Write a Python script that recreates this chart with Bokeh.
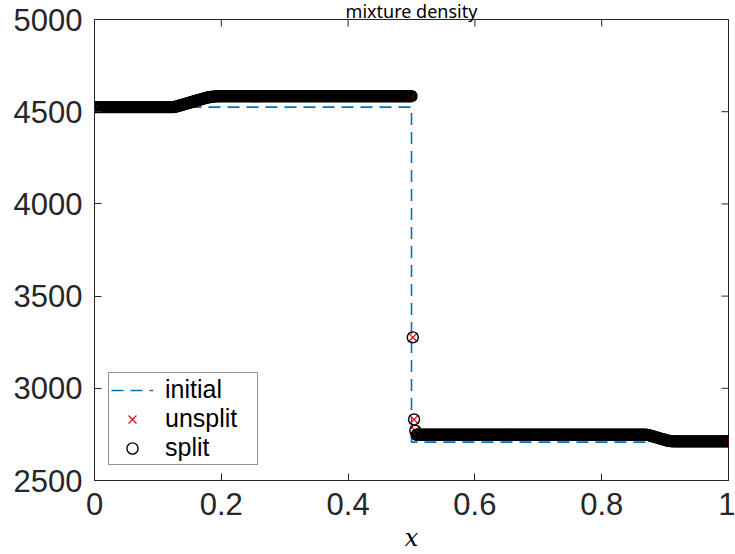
import numpy as np
from bokeh.plotting import figure
from bokeh.models import Legend, LegendItem, Range1d, FixedTicker
from bokeh.embed import file_html
from bokeh.resources import INLINE

# ---- data ----
dx = 0.002
rho_left = [4525] * 63                     # x = 0 .. 0.124
rare_left = [4526, 4527, 4529, 4531, 4533, 4535, 4537, 4539, 4541, 4543,
             4545, 4547, 4549, 4551, 4553, 4555, 4557, 4559, 4561, 4563,
             4565, 4567, 4569, 4571, 4573, 4575, 4577, 4578, 4579, 4580,
             4581, 4582, 4583, 4583, 4584]  # x = 0.126 .. 0.194
rho_star_left = [4584] * 153               # x = 0.196 .. 0.5
jump = [3276, 2831, 2770]                  # x = 0.502 .. 0.506
rho_star_right = [2748] * 182              # x = 0.508 .. 0.87
rare_right = [2747, 2746, 2744, 2742, 2740, 2738, 2736, 2734, 2732, 2730,
              2728, 2726, 2724, 2722, 2720, 2718, 2716, 2715, 2714, 2713,
              2713, 2712, 2712]            # x = 0.872 .. 0.916
rho_right = [2712] * 42                    # x = 0.918 .. 1.0

rho = rho_left + rare_left + rho_star_left + jump + rho_star_right + rare_right + rho_right
x = [round(i * dx, 4) for i in range(len(rho))]

init_x = [0.0, 0.5, 0.5, 1.0]
init_rho = [4525, 4525, 2708, 2708]

x_ticks = [0, 0.2, 0.4, 0.6, 0.8, 1]
x_tick_labels = ["0", "0.2", "0.4", "0.6", "0.8", "1"]
y_ticks = [2500, 3000, 3500, 4000, 4500, 5000]
x_lim = (0, 1)
y_lim = (2500, 5000)

AX = "#262626"
TICKFONT = "Liberation Sans"

p = figure(width=735, height=554, x_range=Range1d(*x_lim), y_range=Range1d(*y_lim),
           output_backend="svg", toolbar_location=None,
           min_border_left=94, min_border_right=7, min_border_top=0, min_border_bottom=71)
p.xgrid.visible = False
p.ygrid.visible = False
p.outline_line_color = AX
p.outline_line_width = 1
p.background_fill_color = "white"
p.border_fill_color = "white"

p.title.text = "mixture density"
p.title.align = "center"
p.title.text_font = "Noto Sans"
p.title.text_font_size = "18px"
p.title.text_font_style = "normal"
p.title.text_color = "black"
p.title.text_line_height = 1.0
p.title.standoff = -7

def style_axis(ax, ticks, standoff):
    ax.ticker = FixedTicker(ticks=ticks)
    ax.minor_tick_line_color = None
    ax.major_tick_in = 7
    ax.major_tick_out = 0
    ax.axis_line_color = AX
    ax.major_tick_line_color = AX
    ax.axis_line_width = 1
    ax.major_label_text_font = TICKFONT
    ax.major_label_text_font_size = "31px"
    ax.major_label_text_color = AX
    ax.major_label_text_line_height = 1.0
    ax.major_label_standoff = standoff

xa = p.xaxis[0]
style_axis(xa, x_ticks, 12)
xa.major_label_overrides = {t: l for t, l in zip(x_ticks, x_tick_labels)}
xa.axis_label = "x"
xa.axis_label_text_font = "DejaVu Serif"
xa.axis_label_text_font_style = "italic"
xa.axis_label_text_font_size = "24px"
xa.axis_label_text_color = "black"
xa.axis_label_text_line_height = 1.0
xa.axis_label_standoff = 6
ya = p.yaxis[0]
style_axis(ya, y_ticks, 12)

# inward tick marks on the top and right edges of the box (clipped to the frame)
p.scatter([x_lim[1]] * len(y_ticks), y_ticks, marker="dash", size=14,
          line_color=AX, line_width=1)
p.scatter(x_ticks, [y_lim[1]] * len(x_ticks), marker="dash", size=14, angle=np.pi / 2,
          line_color=AX, line_width=1)

r_init = p.line(init_x, init_rho, line_color="#0072BD", line_dash="12 7", line_width=1.6)
r_un = p.scatter(x, rho, marker="x", size=13, line_color="red", line_width=1.2)
r_sp = p.scatter(x, rho, marker="circle", size=11, fill_color=None,
                 line_color="black", line_width=1.4)

legend = Legend(items=[LegendItem(label="initial", renderers=[r_init]),
                       LegendItem(label="unsplit", renderers=[r_un]),
                       LegendItem(label="split", renderers=[r_sp])],
                location=(14, 15), orientation="vertical")
legend.label_text_font = TICKFONT
legend.label_text_font_size = "25px"
legend.label_text_color = "black"
legend.label_text_line_height = 1.0
legend.label_height = 28
legend.label_width = 90
legend.label_standoff = 12
legend.glyph_width = 42
legend.glyph_height = 28
legend.spacing = 0
legend.padding = 2
legend.margin = 0
legend.border_line_color = AX
legend.border_line_width = 1
legend.background_fill_color = "white"
legend.background_fill_alpha = 1
p.add_layout(legend)

open("out.html", "w").write(file_html(p, INLINE))
